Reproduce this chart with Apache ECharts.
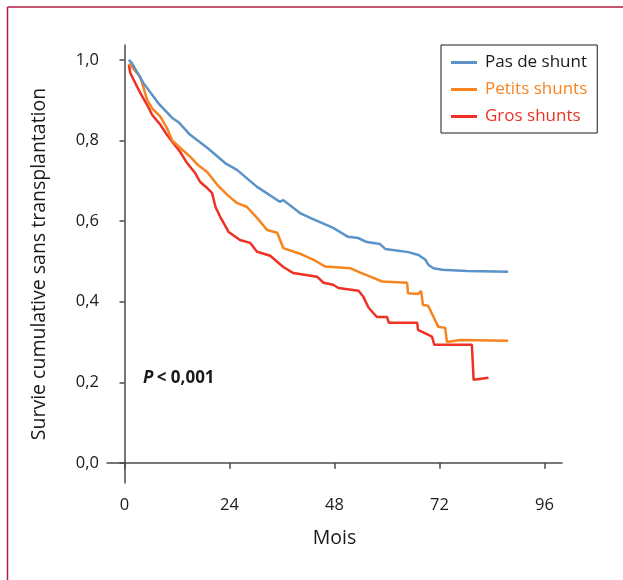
<!DOCTYPE html>
<html>
<head>
<meta charset="utf-8">
<script src="https://cdn.jsdelivr.net/npm/echarts@6/dist/echarts.min.js"></script>
<style>
  html, body { margin: 0; padding: 0; background: #fff; }
  #main { width: 623px; height: 580px; }
</style>
</head>
<body>
<div id="main"></div>
<script>
  // mois / survie
  const pasMonths = [1, 1.8, 4.3, 7.7, 10.9, 12.3, 15, 18.9, 23, 25.7, 30.3, 35.5, 36.3, 40.1, 43.1, 47.7, 51.1, 53.4, 55.4, 58.4, 59.6, 64.9, 67.2, 68.8, 69.5, 70.6, 72.6, 78.3, 87.7]
  const pasSurv = [1.0, 0.99, 0.943, 0.893, 0.856, 0.846, 0.814, 0.782, 0.744, 0.727, 0.685, 0.648, 0.652, 0.62, 0.605, 0.583, 0.561, 0.558, 0.548, 0.543, 0.531, 0.523, 0.516, 0.504, 0.491, 0.483, 0.479, 0.476, 0.474]

  const petitsMonths = [1, 1.5, 3.6, 5.2, 6.3, 8.2, 9.7, 10.9, 12.7, 15, 16.8, 18.9, 21.2, 23.5, 25.7, 28, 30.3, 32.6, 34.9, 36.3, 40.1, 43.2, 45.9, 51.6, 53.9, 56.2, 58.9, 64.6, 64.8, 67.1, 67.8, 68.2, 69.4, 71.7, 73.3, 73.7, 76.7, 87.7]
  const petitsSurv = [0.99, 0.985, 0.958, 0.9, 0.88, 0.859, 0.831, 0.8, 0.782, 0.76, 0.739, 0.722, 0.69, 0.665, 0.645, 0.635, 0.608, 0.578, 0.571, 0.533, 0.519, 0.504, 0.487, 0.483, 0.472, 0.462, 0.45, 0.447, 0.421, 0.419, 0.427, 0.392, 0.39, 0.338, 0.335, 0.3, 0.305, 0.303]

  const grosMonths = [1, 1.3, 3.6, 5.2, 6.3, 8.2, 9.7, 10.9, 12.7, 14.3, 16.1, 17.3, 18.9, 20, 20.8, 21.9, 23.8, 26.4, 28.7, 30.3, 33.3, 36.3, 38.6, 44.0, 44.4, 45.5, 47.7, 48.9, 53.5, 54.6, 55.8, 57.7, 60.0, 60.3, 60.4, 66.9, 67.1, 70.3, 70.8, 79.4, 79.8, 83.2]
  const grosSurv = [0.988, 0.968, 0.918, 0.888, 0.864, 0.839, 0.814, 0.797, 0.772, 0.744, 0.72, 0.697, 0.682, 0.67, 0.635, 0.61, 0.573, 0.553, 0.546, 0.524, 0.514, 0.486, 0.471, 0.462, 0.466, 0.447, 0.442, 0.434, 0.427, 0.412, 0.385, 0.362, 0.362, 0.366, 0.348, 0.348, 0.33, 0.313, 0.293, 0.293, 0.206, 0.211]

  const xTicks = [0, 24, 48, 72, 96]
  const yTicks = [0, 0.2, 0.4, 0.6, 0.8, 1.0]

  const seriesNames = ['Pas de shunt', 'Petits shunts', 'Gros shunts']
  const lineColors = ['#5b93c9', '#f7841f', '#ee3124']
  const textColors = ['#1a1a1a', '#f7841f', '#ee3124']

  function zip(xs, ys) {
    return xs.map(function (x, i) { return [x, ys[i]] })
  }

  const myChart = echarts.init(document.getElementById('main'))
  const font = '"Open Sans", "Noto Sans", sans-serif'
  const option = {
    backgroundColor: '#fff',
    animation: false,
    grid: { left: 107, right: 61, top: 45, bottom: 97 },
    legend: {
      orient: 'vertical',
      left: 441,
      top: 45,
      padding: [9, 10, 8, 10],
      itemGap: 10,
      itemWidth: 26,
      itemHeight: 3,
      icon: 'rect',
      borderColor: '#1a1a1a',
      borderWidth: 1,
      textStyle: { fontFamily: font, fontSize: 17, padding: [0, 0, 0, 3] },
      data: seriesNames.map(function (n, i) {
        return { name: n, textStyle: { color: textColors[i] } }
      })
    },
    xAxis: {
      type: 'value',
      min: -4,
      max: 100,
      name: 'Mois',
      nameLocation: 'middle',
      nameGap: 45,
      nameTextStyle: { fontFamily: font, fontSize: 19.5, color: '#1a1a1a' },
      axisLine: { lineStyle: { color: '#4a4a4a', width: 1.5 } },
      axisTick: { show: true, length: 6, customValues: xTicks, lineStyle: { color: '#4a4a4a', width: 1.5 } },
      axisLabel: { customValues: xTicks, fontFamily: font, fontSize: 16.5, color: '#1a1a1a', margin: 14 },
      splitLine: { show: false }
    },
    yAxis: {
      type: 'value',
      min: -0.05,
      max: 1.037,
      name: 'Survie cumulative sans transplantation',
      nameLocation: 'middle',
      nameGap: 58,
      nameTextStyle: { fontFamily: font, fontSize: 19.5, color: '#1a1a1a' },
      axisLine: { show: true, lineStyle: { color: '#4a4a4a', width: 1.5 } },
      axisTick: { show: true, length: 5, customValues: yTicks, lineStyle: { color: '#4a4a4a', width: 1.5 } },
      axisLabel: {
        customValues: yTicks,
        fontFamily: font,
        fontSize: 16.5,
        color: '#1a1a1a',
        margin: 8,
        formatter: function (v) { return v.toFixed(1).replace('.', ',') }
      },
      splitLine: { show: false }
    },
    graphic: [
      { type: 'line', shape: { x1: 7.5, y1: 7, x2: 623, y2: 7 }, style: { stroke: '#b31b45', lineWidth: 1.5 } },
      { type: 'line', shape: { x1: 7.5, y1: 7, x2: 7.5, y2: 580 }, style: { stroke: '#b31b45', lineWidth: 1.5 } },
      {
        type: 'text',
        left: 143,
        top: 370,
        style: {
          text: '{i|P} {b|< 0,001}',
          rich: {
            i: { fontFamily: font, fontSize: 17, fontWeight: 'bold', fontStyle: 'italic', fill: '#1a1a1a' },
            b: { fontFamily: font, fontSize: 17, fontWeight: 'bold', fill: '#1a1a1a' }
          }
        }
      }
    ],
    series: [
      { name: seriesNames[0], type: 'line', data: zip(pasMonths, pasSurv) },
      { name: seriesNames[1], type: 'line', data: zip(petitsMonths, petitsSurv) },
      { name: seriesNames[2], type: 'line', data: zip(grosMonths, grosSurv) }
    ].map(function (s, i) {
      s.showSymbol = false
      s.color = lineColors[i]
      s.lineStyle = { color: lineColors[i], width: 2.5 }
      s.z = 3 - i
      return s
    })
  }
  myChart.setOption(option, true)
</script>
</body>
</html>
